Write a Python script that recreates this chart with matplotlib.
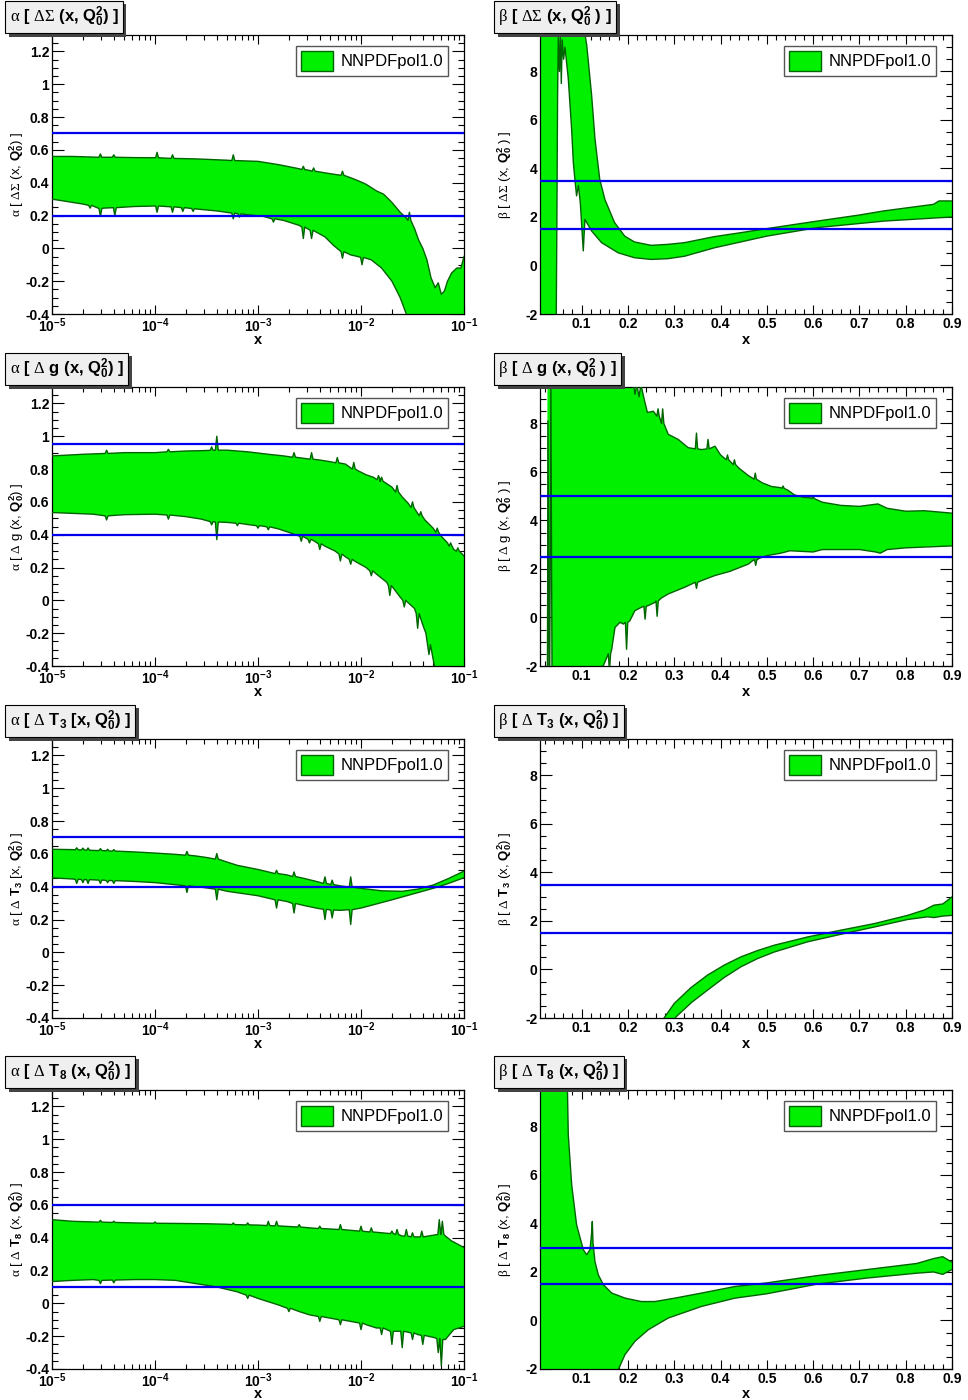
import numpy as np
import matplotlib
matplotlib.use("Agg")
import matplotlib.pyplot as plt
import matplotlib.patheffects as pe
from matplotlib.patches import Patch
from matplotlib.ticker import MultipleLocator, FixedLocator, FixedFormatter, FuncFormatter, LogLocator, NullFormatter

plt.rcParams["font.family"] = "Liberation Sans"
plt.rcParams["font.weight"] = "bold"
# greek symbols come out in a plain serif face, everything else in bold sans
plt.rcParams["mathtext.fontset"] = "custom"
plt.rcParams["mathtext.rm"] = "Liberation Serif:weight=normal"
plt.rcParams["mathtext.it"] = "Liberation Serif:weight=normal"
plt.rcParams["mathtext.bf"] = "Liberation Sans:weight=bold"

GREEN = "#00f000"
DKGREEN = "#006400"
BLUE = "#0000ee"

# ---- alpha panels: (log10 x, value); spikes are (log10 x, base, tip) ----
dsig_a_up = [(-5.0, 0.56), (-4.8, 0.56), (-4.5, 0.555), (-4.2, 0.553), (-4.0, 0.552), (-3.6, 0.545),
             (-3.3, 0.537), (-3.0, 0.53), (-2.8, 0.51), (-2.6, 0.485), (-2.5, 0.475), (-2.3, 0.455),
             (-2.1, 0.43), (-2.02, 0.41), (-1.95, 0.39), (-1.85, 0.35), (-1.78, 0.33), (-1.70, 0.28),
             (-1.62, 0.22), (-1.56, 0.185), (-1.48, 0.12), (-1.44, 0.05), (-1.40, 0.0), (-1.36, -0.07),
             (-1.32, -0.18), (-1.28, -0.24), (-1.25, -0.21), (-1.22, -0.28), (-1.19, -0.26), (-1.16, -0.2),
             (-1.12, -0.15), (-1.07, -0.12), (-1.03, -0.12), (-1.0, -0.05)]
dsig_a_up_spk = [(-4.53, 0.555, 0.575), (-4.40, 0.555, 0.57), (-3.98, 0.552, 0.585), (-3.83, 0.548, 0.57),
                 (-3.24, 0.535, 0.57), (-2.56, 0.48, 0.50), (-2.46, 0.47, 0.49), (-2.18, 0.445, 0.47),
                 (-1.53, 0.17, 0.22)]
dsig_a_lo = [(-5.0, 0.30), (-4.7, 0.27), (-4.5, 0.245), (-4.2, 0.255), (-4.0, 0.258), (-3.8, 0.252),
             (-3.6, 0.24), (-3.4, 0.228), (-3.1, 0.205), (-2.95, 0.195), (-2.75, 0.17), (-2.6, 0.14),
             (-2.52, 0.12), (-2.35, 0.07), (-2.27, 0.02), (-2.1, -0.04), (-2.03, -0.05), (-1.9, -0.07),
             (-1.8, -0.12), (-1.7, -0.2), (-1.62, -0.3), (-1.56, -0.4), (-1.5, -0.52), (-1.4, -0.7), (-1.0, -0.7)]
dsig_a_lo_spk = [(-4.63, 0.262, 0.245), (-4.53, 0.243, 0.195), (-4.39, 0.248, 0.2), (-3.98, 0.258, 0.22),
                 (-3.83, 0.253, 0.22), (-3.73, 0.248, 0.225), (-3.63, 0.243, 0.225), (-3.24, 0.215, 0.18),
                 (-3.18, 0.21, 0.19), (-2.85, 0.18, 0.16), (-2.56, 0.13, 0.06), (-2.48, 0.11, 0.06),
                 (-2.18, -0.02, -0.06), (-1.99, -0.055, -0.1)]

dg_a_up = [(-5.0, 0.88), (-4.7, 0.89), (-4.3, 0.9), (-4.0, 0.9), (-3.7, 0.91), (-3.55, 0.912), (-3.3, 0.915),
           (-3.1, 0.905), (-2.9, 0.89), (-2.75, 0.88), (-2.55, 0.865), (-2.4, 0.855), (-2.3, 0.845),
           (-2.15, 0.83), (-2.03, 0.79), (-1.95, 0.765), (-1.88, 0.75), (-1.76, 0.715), (-1.7, 0.69),
           (-1.6, 0.63), (-1.54, 0.59), (-1.45, 0.53), (-1.38, 0.49), (-1.3, 0.44), (-1.22, 0.39),
           (-1.16, 0.35), (-1.1, 0.31), (-1.03, 0.29), (-1.0, 0.27)]
dg_a_up_spk = [(-4.47, 0.895, 0.915), (-3.87, 0.905, 0.92), (-3.45, 0.914, 0.935), (-3.40, 0.915, 1.0),
               (-2.65, 0.872, 0.9), (-2.48, 0.86, 0.9), (-2.23, 0.838, 0.87), (-2.07, 0.8, 0.84),
               (-1.83, 0.735, 0.76), (-1.8, 0.725, 0.75), (-1.65, 0.66, 0.7), (-1.5, 0.565, 0.6),
               (-1.42, 0.515, 0.54), (-1.26, 0.415, 0.44), (-1.13, 0.33, 0.35), (-1.06, 0.3, 0.32)]
dg_a_lo = [(-5.0, 0.535), (-4.6, 0.525), (-4.3, 0.522), (-4.0, 0.525), (-3.7, 0.51), (-3.55, 0.495),
           (-3.3, 0.475), (-3.1, 0.462), (-2.95, 0.452), (-2.8, 0.435), (-2.68, 0.41), (-2.55, 0.385),
           (-2.45, 0.36), (-2.35, 0.33), (-2.25, 0.3), (-2.15, 0.265), (-2.05, 0.235), (-1.95, 0.2),
           (-1.85, 0.16), (-1.75, 0.11), (-1.68, 0.07), (-1.62, 0.02), (-1.55, -0.01), (-1.48, -0.05),
           (-1.4, -0.15), (-1.37, -0.2), (-1.29, -0.39), (-1.25, -0.5), (-1.2, -0.6), (-1.0, -0.6)]
dg_a_lo_spk = [(-4.47, 0.515, 0.49), (-3.87, 0.52, 0.495), (-3.45, 0.48, 0.46), (-3.40, 0.477, 0.37),
               (-3.2, 0.47, 0.455), (-3.0, 0.455, 0.44), (-2.9, 0.448, 0.43), (-2.58, 0.39, 0.36),
               (-2.5, 0.372, 0.35), (-2.4, 0.345, 0.31), (-2.2, 0.282, 0.24), (-2.1, 0.25, 0.22),
               (-1.9, 0.18, 0.15), (-1.72, 0.09, 0.03), (-1.58, 0.0, -0.04), (-1.45, -0.08, -0.17),
               (-1.34, -0.27, -0.33)]

t3_a_up = [(-5.0, 0.628), (-4.8, 0.626), (-4.5, 0.62), (-4.2, 0.612), (-4.0, 0.605), (-3.8, 0.597),
           (-3.6, 0.587), (-3.5, 0.578), (-3.3, 0.55), (-3.2, 0.53), (-3.0, 0.505), (-2.9, 0.49),
           (-2.72, 0.472), (-2.55, 0.45), (-2.42, 0.43), (-2.2, 0.405), (-2.0, 0.39), (-1.8, 0.375),
           (-1.6, 0.372), (-1.45, 0.385), (-1.3, 0.41), (-1.15, 0.45), (-1.0, 0.495)]
t3_a_up_spk = [(-4.76, 0.625, 0.637), (-4.70, 0.624, 0.635), (-4.65, 0.622, 0.636), (-4.53, 0.62, 0.632),
               (-4.46, 0.618, 0.628), (-4.40, 0.617, 0.626), (-3.69, 0.592, 0.615), (-3.40, 0.568, 0.602),
               (-2.82, 0.48, 0.5), (-2.65, 0.462, 0.49), (-2.35, 0.42, 0.46), (-2.28, 0.413, 0.44),
               (-2.10, 0.398, 0.46)]
t3_a_lo = [(-5.0, 0.454), (-4.8, 0.447), (-4.5, 0.44), (-4.2, 0.432), (-4.0, 0.425), (-3.8, 0.412),
           (-3.55, 0.397), (-3.3, 0.372), (-3.0, 0.345), (-2.9, 0.33), (-2.72, 0.31), (-2.55, 0.285),
           (-2.42, 0.268), (-2.2, 0.256), (-2.0, 0.27), (-1.85, 0.295), (-1.7, 0.32), (-1.5, 0.355),
           (-1.3, 0.39), (-1.15, 0.42), (-1.0, 0.455)]
t3_a_lo_spk = [(-4.76, 0.445, 0.42), (-4.70, 0.444, 0.425), (-4.65, 0.443, 0.42), (-4.53, 0.44, 0.42),
               (-4.46, 0.438, 0.425), (-4.40, 0.437, 0.42), (-3.69, 0.405, 0.365), (-3.40, 0.385, 0.32),
               (-2.82, 0.32, 0.27), (-2.65, 0.298, 0.24), (-2.35, 0.262, 0.2), (-2.28, 0.258, 0.21),
               (-2.10, 0.26, 0.17)]

t8_a_up = [(-5.0, 0.51), (-4.8, 0.5), (-4.6, 0.496), (-4.2, 0.49), (-3.8, 0.487), (-3.5, 0.485),
           (-3.3, 0.482), (-3.0, 0.477), (-2.75, 0.47), (-2.5, 0.46), (-2.3, 0.453), (-2.1, 0.445),
           (-1.95, 0.437), (-1.8, 0.43), (-1.6, 0.41), (-1.45, 0.405), (-1.3, 0.415), (-1.18, 0.41),
           (-1.12, 0.38), (-1.06, 0.36), (-1.0, 0.34)]
t8_a_up_spk = [(-4.53, 0.495, 0.506), (-4.4, 0.493, 0.5), (-4.0, 0.488, 0.496), (-3.24, 0.48, 0.49),
               (-3.1, 0.478, 0.49), (-2.9, 0.474, 0.5), (-2.82, 0.472, 0.5), (-2.6, 0.465, 0.48),
               (-2.4, 0.456, 0.47), (-2.2, 0.45, 0.48), (-2.0, 0.44, 0.47), (-1.9, 0.435, 0.46),
               (-1.7, 0.425, 0.44), (-1.65, 0.42, 0.45), (-1.56, 0.41, 0.45), (-1.5, 0.405, 0.43),
               (-1.41, 0.405, 0.44), (-1.24, 0.42, 0.51), (-1.21, 0.42, 0.5)]
t8_a_lo = [(-5.0, 0.133), (-4.8, 0.14), (-4.6, 0.145), (-4.2, 0.145), (-4.0, 0.145), (-3.8, 0.14),
           (-3.6, 0.12), (-3.4, 0.1), (-3.2, 0.07), (-3.0, 0.03), (-2.9, 0.01), (-2.8, -0.01), (-2.6, -0.05),
           (-2.5, -0.07), (-2.3, -0.09), (-2.1, -0.11), (-1.95, -0.13), (-1.85, -0.15), (-1.75, -0.16),
           (-1.55, -0.175), (-1.45, -0.19), (-1.35, -0.2), (-1.28, -0.21), (-1.18, -0.22), (-1.1, -0.16),
           (-1.0, -0.14)]
t8_a_lo_spk = [(-4.53, 0.14, 0.12), (-4.4, 0.142, 0.125), (-3.1, 0.05, 0.03), (-2.7, -0.03, -0.05),
               (-2.4, -0.08, -0.11), (-2.2, -0.1, -0.13), (-2.0, -0.12, -0.16), (-1.8, -0.15, -0.19),
               (-1.7, -0.17, -0.25), (-1.6, -0.17, -0.27), (-1.5, -0.18, -0.22), (-1.4, -0.195, -0.25),
               (-1.25, -0.215, -0.3), (-1.22, -0.22, -0.38)]

# ---- beta panels: (x, value) ----
dsig_b_up = [(0.01, 9.8), (0.105, 9.8), (0.111, 9.07), (0.1216, 7.0), (0.1288, 5.21), (0.139, 3.56),
             (0.150, 2.73), (0.171, 1.77), (0.193, 1.21), (0.214, 0.97), (0.25, 0.83), (0.286, 0.87),
             (0.322, 0.94), (0.387, 1.19), (0.45, 1.37), (0.5, 1.52), (0.609, 1.83), (0.7, 2.08),
             (0.753, 2.25), (0.86, 2.52), (0.872, 2.66), (0.9, 2.66)]
dsig_b_lo = [(0.01, -2.5), (0.045, -2.5), (0.0465, 2.0), (0.048, 7.0), (0.0495, 9.4), (0.052, 8.0),
             (0.054, 9.5), (0.056, 7.5), (0.058, 9.3), (0.061, 8.5), (0.064, 9.0), (0.0711, 7.7),
             (0.0784, 5.6), (0.082, 4.25), (0.0856, 3.5), (0.089, 2.87), (0.093, 3.3), (0.097, 2.6),
             (0.1035, 0.6), (0.107, 1.9), (0.1216, 1.42), (0.143, 0.94), (0.179, 0.52), (0.214, 0.32),
             (0.25, 0.25), (0.286, 0.28), (0.322, 0.38), (0.387, 0.73), (0.5, 1.21), (0.609, 1.56),
             (0.753, 1.83), (0.9, 2.0)]

dg_b_up = [(0.0262, 9.8), (0.211, 9.8), (0.215, 9.2), (0.219, 9.6), (0.224, 9.1), (0.228, 9.6),
           (0.235, 9.0), (0.242, 8.45), (0.255, 8.5), (0.272, 8.04), (0.287, 7.55), (0.3085, 7.34),
           (0.33, 7.0), (0.359, 6.92), (0.388, 7.06), (0.40, 6.7), (0.42, 6.45), (0.44, 6.15),
           (0.46, 5.85), (0.49, 5.55), (0.51, 5.4), (0.53, 5.35), (0.545, 5.25), (0.56, 5.05),
           (0.58, 4.95), (0.595, 4.93), (0.62, 4.75), (0.66, 4.62), (0.7, 4.58), (0.74, 4.68),
           (0.76, 4.5), (0.8, 4.38), (0.84, 4.4), (0.9, 4.3)]
dg_b_up_spk = [(0.265, 8.3, 8.6), (0.275, 8.0, 8.6), (0.348, 6.95, 7.6), (0.373, 6.95, 7.34),
               (0.415, 6.5, 6.7), (0.43, 6.3, 6.5), (0.475, 5.7, 5.95), (0.535, 5.32, 5.42),
               (0.6, 4.9, 5.0)]
dg_b_lo = [(0.0262, -2.5), (0.1466, -2.0), (0.154, -1.66), (0.165, -1.3), (0.172, -0.41), (0.1827, -0.2),
           (0.19, -0.27), (0.204, -0.14), (0.215, 0.28), (0.229, 0.42), (0.245, 0.5), (0.258, 0.62),
           (0.272, 0.8), (0.287, 0.97), (0.323, 1.25), (0.359, 1.52), (0.388, 1.73), (0.42, 1.9),
           (0.44, 2.05), (0.46, 2.2), (0.47, 2.35), (0.485, 2.45), (0.5, 2.55), (0.53, 2.65),
           (0.55, 2.75), (0.6, 2.7), (0.62, 2.8), (0.7, 2.8), (0.735, 2.7), (0.745, 2.65),
           (0.76, 2.8), (0.8, 2.87), (0.9, 2.95)]
dg_b_lo_spk = [(0.0272, -2.5, 8.1), (0.0335, -2.5, 9.6), (0.16, -1.5, -2.2), (0.197, -0.2, -1.31),
               (0.237, 0.46, -0.07), (0.263, 0.68, 0.05), (0.348, 1.45, 1.2), (0.476, 2.38, 2.15)]

t3_b_up = [(0.27, -2.4), (0.278, -2.0), (0.3, -1.4), (0.336, -0.75), (0.372, -0.23), (0.408, 0.18),
           (0.444, 0.52), (0.48, 0.78), (0.516, 1.0), (0.588, 1.34), (0.66, 1.62), (0.732, 1.89),
           (0.804, 2.23), (0.84, 2.45), (0.861, 2.65), (0.88, 2.7), (0.9, 2.99)]
t3_b_lo = [(0.29, -2.4), (0.304, -1.95), (0.338, -1.35), (0.372, -0.85), (0.408, -0.33), (0.444, 0.11),
           (0.48, 0.45), (0.516, 0.72), (0.588, 1.14), (0.66, 1.45), (0.732, 1.75), (0.804, 2.06),
           (0.847, 2.17), (0.861, 2.14), (0.88, 2.2), (0.9, 2.23)]

t8_b_up = [(0.01, 9.8), (0.069, 9.8), (0.0711, 7.66), (0.0784, 5.6), (0.089, 3.95), (0.1035, 2.92),
           (0.1108, 2.71), (0.118, 2.92), (0.1215, 3.6), (0.123, 4.08), (0.1245, 3.2), (0.1287, 2.43),
           (0.136, 1.88), (0.147, 1.47), (0.165, 1.13), (0.194, 0.92), (0.229, 0.78), (0.258, 0.78),
           (0.301, 0.92), (0.359, 1.13), (0.431, 1.40), (0.5, 1.55), (0.609, 1.85), (0.717, 2.1),
           (0.824, 2.35), (0.86, 2.55), (0.88, 2.63), (0.9, 2.4)]
t8_b_lo = [(0.01, -2.5), (0.175, -2.5), (0.179, -2.03), (0.1935, -1.41), (0.215, -0.86), (0.244, -0.38),
           (0.287, 0.1), (0.359, 0.58), (0.431, 0.92), (0.5, 1.1), (0.609, 1.5), (0.717, 1.75),
           (0.824, 1.95), (0.86, 2.0), (0.88, 1.9), (0.9, 2.1)]

# reference lines drawn in each panel
dsig_a_lines = [0.2, 0.7]
dsig_b_lines = [1.5, 3.5]
dg_a_lines = [0.4, 0.95]
dg_b_lines = [2.5, 5.0]
t3_a_lines = [0.4, 0.7]
t3_b_lines = [1.5, 3.5]
t8_a_lines = [0.1, 0.6]
t8_b_lines = [1.5, 3.0]

Q0 = r"$\mathbf{Q^{2}_{0}}$"
titles = [
    (r"$\alpha$ [ $\Delta\Sigma$ (x, " + Q0 + ") ]",
     r"$\beta$ [ $\Delta\Sigma$ (x, " + Q0 + " ) ]"),
    (r"$\alpha$ [ $\Delta$ g (x, " + Q0 + ") ]",
     r"$\beta$ [ $\Delta$ g (x, " + Q0 + " ) ]"),
    (r"$\alpha$ [ $\Delta$ $\mathbf{T_{3}}$ [x, " + Q0 + ") ]",
     r"$\beta$ [ $\Delta$ $\mathbf{T_{3}}$ (x, " + Q0 + ") ]"),
    (r"$\alpha$ [ $\Delta$ $\mathbf{T_{8}}$ (x, " + Q0 + ") ]",
     r"$\beta$ [ $\Delta$ $\mathbf{T_{8}}$ (x, " + Q0 + ") ]"),
]

rows = [
    (dsig_a_up, dsig_a_up_spk, dsig_a_lo, dsig_a_lo_spk, dsig_a_lines,
     dsig_b_up, [], dsig_b_lo, [], dsig_b_lines),
    (dg_a_up, dg_a_up_spk, dg_a_lo, dg_a_lo_spk, dg_a_lines,
     dg_b_up, dg_b_up_spk, dg_b_lo, dg_b_lo_spk, dg_b_lines),
    (t3_a_up, t3_a_up_spk, t3_a_lo, t3_a_lo_spk, t3_a_lines,
     t3_b_up, [], t3_b_lo, [], t3_b_lines),
    (t8_a_up, t8_a_up_spk, t8_a_lo, t8_a_lo_spk, t8_a_lines,
     t8_b_up, [], t8_b_lo, [], t8_b_lines),
]

decade_ticks = [-5, -4, -3, -2, -1]


def curve(knots, spikes, w):
    pts = list(knots)
    for x, base, tip in spikes:
        pts += [(x - w, base), (x, tip), (x + w, base)]
    pts.sort()
    xs, ys = zip(*pts)
    return np.array(xs), np.array(ys)


def draw_band(ax, up, lo, logx):
    xu, yu = up
    xl, yl = lo
    if logx:
        xu, xl = 10.0 ** xu, 10.0 ** xl
    ax.fill(np.r_[xu, xl[::-1]], np.r_[yu, yl[::-1]], color=GREEN, lw=0, zorder=2)
    ax.plot(xu, yu, color=DKGREEN, lw=1.0, zorder=3)
    ax.plot(xl, yl, color=DKGREEN, lw=1.0, zorder=3)


def num_fmt(v, pos):
    return f"{round(v, 3) + 0.0:g}"


W, H = 968, 1400
fig = plt.figure(figsize=(W / 100, H / 100), dpi=100)
fig.patch.set_facecolor("white")

col_left = [52, 540]
row_top = [35, 387, 739, 1090]
ax_w, ax_h = 412, 279

for r, row in enumerate(rows):
    a_up, a_up_s, a_lo, a_lo_s, a_lines, b_up, b_up_s, b_lo, b_lo_s, b_lines = row
    for c in range(2):
        ax = fig.add_axes([col_left[c] / W, 1 - (row_top[r] + ax_h) / H, ax_w / W, ax_h / H])
        if c == 0:
            ax.set_xscale("log")
            draw_band(ax, curve(a_up, a_up_s, 0.014), curve(a_lo, a_lo_s, 0.014), True)
            for y in a_lines:
                ax.axhline(y, color=BLUE, lw=1.6, zorder=4)
            ax.set_xlim(1e-5, 1e-1)
            ax.set_ylim(-0.4, 1.3)
            ax.xaxis.set_major_locator(FixedLocator([10.0 ** d for d in decade_ticks]))
            ax.xaxis.set_major_formatter(FixedFormatter([r"$\mathbf{10^{%d}}$" % d for d in decade_ticks]))
            ax.xaxis.set_minor_locator(LogLocator(base=10, subs=np.arange(2, 10)))
            ax.xaxis.set_minor_formatter(NullFormatter())
            ax.yaxis.set_major_locator(MultipleLocator(0.2))
            ax.yaxis.set_minor_locator(MultipleLocator(0.05))
        else:
            draw_band(ax, curve(b_up, b_up_s, 0.0025), curve(b_lo, b_lo_s, 0.0025), False)
            for y in b_lines:
                ax.axhline(y, color=BLUE, lw=1.6, zorder=4)
            ax.set_xlim(0.01, 0.9)
            ax.set_ylim(-2, 9.5)
            ax.xaxis.set_major_locator(MultipleLocator(0.1))
            ax.xaxis.set_minor_locator(MultipleLocator(0.02))
            ax.xaxis.set_major_formatter(FuncFormatter(num_fmt))
            ax.yaxis.set_major_locator(MultipleLocator(2))
            ax.yaxis.set_minor_locator(MultipleLocator(0.5))
        ax.yaxis.set_major_formatter(FuncFormatter(num_fmt))

        ax.tick_params(which="both", direction="in", top=True, right=True, width=0.8,
                       labelsize=10, colors="black")
        ax.tick_params(axis="y", which="major", length=8.5, pad=2)
        ax.tick_params(axis="y", which="minor", length=4.3)
        ax.tick_params(axis="x", which="major", length=6.5, pad=2)
        ax.tick_params(axis="x", which="minor", length=3.3)
        for s in ax.spines.values():
            s.set_linewidth(0.9)

        label = titles[r][c]
        ax.set_ylabel(label, fontsize=9.5)
        ax.yaxis.set_label_coords(-0.062, 0.5)
        # math text keeps the box of the "x" tight to the glyph
        ax.set_xlabel(r"$\mathbf{x}$", fontsize=10.5)
        ax.xaxis.label.set_va("baseline")
        ax.xaxis.set_label_coords(0.5, -29.5 / ax_h)

        leg = ax.legend(handles=[Patch(facecolor=GREEN, edgecolor=DKGREEN, lw=1.0)], labels=["NNPDFpol1.0"],
                        loc="upper right", bbox_to_anchor=(0.962, 0.962), borderaxespad=0,
                        prop={"family": "Liberation Sans", "weight": "normal", "size": 12},
                        frameon=True, fancybox=False, framealpha=1, edgecolor="#555555",
                        handlelength=1.9, handleheight=1.45, handletextpad=0.45, borderpad=0.32)
        leg.get_frame().set_linewidth(1.0)
        leg.set_zorder(10)

        # title box in the top-left corner of each pad
        tx = (9.5 if c == 0 else 498.5) / W
        ty = 1 - (row_top[r] - 18) / H
        t = fig.text(tx, ty, label, ha="left", va="center", fontsize=12,
                     bbox=dict(boxstyle="square,pad=0.25", fc="#efefef", ec="black", lw=0.8))
        t.get_bbox_patch().set_path_effects(
            [pe.withSimplePatchShadow(offset=(2.5, -2.5), shadow_rgbFace="#444444", alpha=1.0)])

fig.savefig("out.png", dpi=100, facecolor="white")
